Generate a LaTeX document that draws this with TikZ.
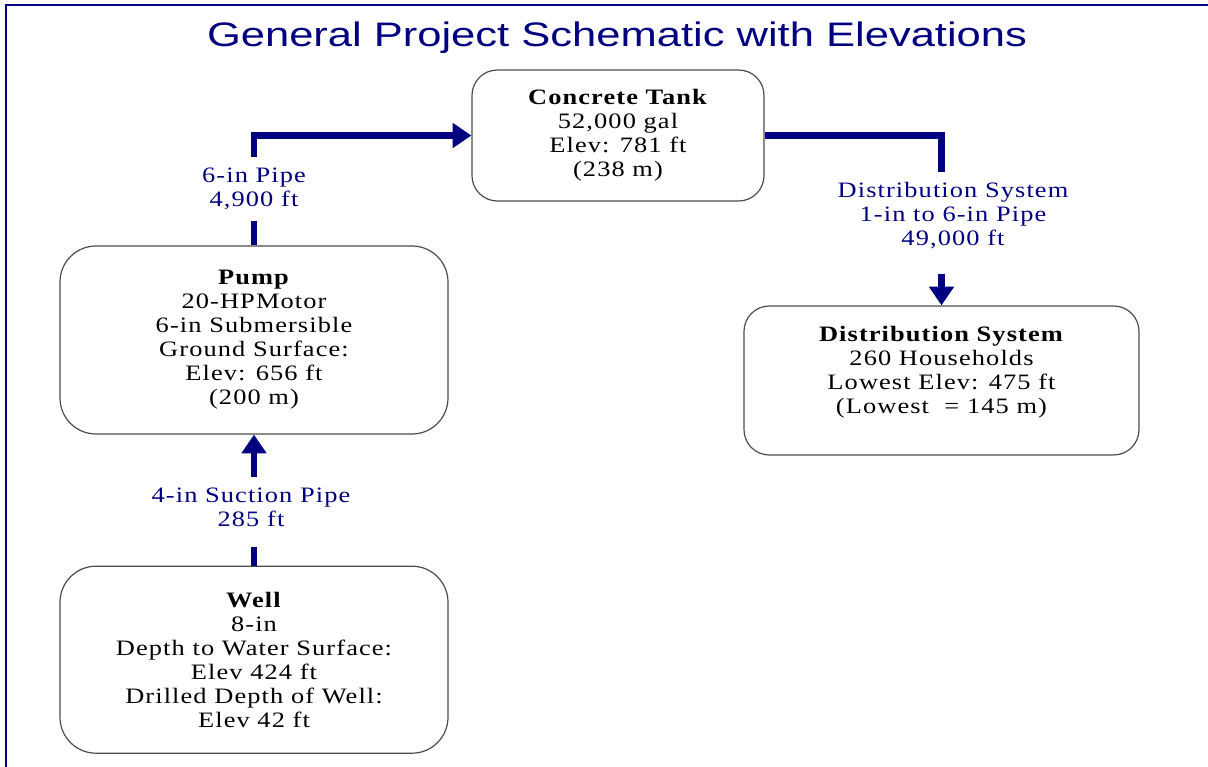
\documentclass[tikz,border=0pt]{standalone}
\usepackage{fontspec}
\setmainfont{Liberation Serif}[FakeStretch=1.2,LetterSpace=5]
\newfontfamily\titlefont{Liberation Sans}[FakeStretch=1.28]
\usetikzlibrary{arrows.meta,positioning}
\definecolor{nv}{RGB}{0,0,128}
\tikzset{unit/.style={draw=black!70,line width=.9pt,fill=white,rounded corners=19pt,align=center,inner sep=0pt},
 bigunit/.style={unit,rounded corners=27pt,minimum width=291pt},
 lbl/.style={text=nv,align=center,inner xsep=4pt,inner ysep=8pt},
 pipe/.style={draw=nv,line width=5pt},arr/.style={pipe,-{Triangle[length=14pt,width=18pt]}},
 every node/.style={font=\fontsize{16.5pt}{18pt}\selectfont}}
\begin{document}
\begin{tikzpicture}[x=0.75pt,y=-0.75pt]
\useasboundingbox (0,0) rectangle (1208,767);
\draw[nv,line width=1.5pt] (6,767) |- (1208,5);
\node[text=nv,font=\titlefont\fontsize{25.5pt}{30pt}\selectfont] (title) at (617,38) {General Project Schematic with Elevations};
\node[unit,minimum width=219pt,minimum height=98.25pt] (tank) at (618,135.5) {\textbf{Concrete Tank}\\52,000 gal\\Elev: 781 ft\\(238 m)};
\node[bigunit,minimum height=141pt] (pump) at (254,340) {\textbf{Pump}\\20-HPMotor\\6-in Submersible\\Ground Surface:\\Elev: 656 ft\\(200 m)};
\node[bigunit,minimum height=140.25pt,below=98.25pt of pump] (well) {\textbf{Well}\\8-in\\Depth to Water Surface:\\Elev 424 ft\\Drilled Depth of Well:\\Elev 42 ft};
\node[unit,minimum width=296.25pt,minimum height=111.75pt] (dist) at (941.5,380.5) {\textbf{Distribution System}\\260 Households\\Lowest Elev: 475 ft\\(Lowest~ = 145 m)\\[-2pt]};
\node[lbl] (pipeLbl) at (254,189) {6-in Pipe\\4,900 ft};
\node[lbl] (distLbl) at (953,216) {Distribution System\\1-in to 6-in Pipe\\49,000 ft};
\node[lbl] (suctLbl) at (251,507) {4-in Suction Pipe\\285 ft};
\draw[pipe] (pump.north) -- (pipeLbl.south -| pump.north);
\draw[arr] (pipeLbl.north -| pump.north) |- (tank.west);
\draw[pipe] (tank.east) -| (distLbl.north -| dist.north);
\draw[arr] ([yshift=-10pt]distLbl.south -| dist.north) -- (dist.north);
\draw[pipe] (well.north) -- ([yshift=-7pt]suctLbl.south -| well.north);
\draw[arr] (suctLbl.north -| well.north) -- (pump.south);
\end{tikzpicture}
\end{document}
